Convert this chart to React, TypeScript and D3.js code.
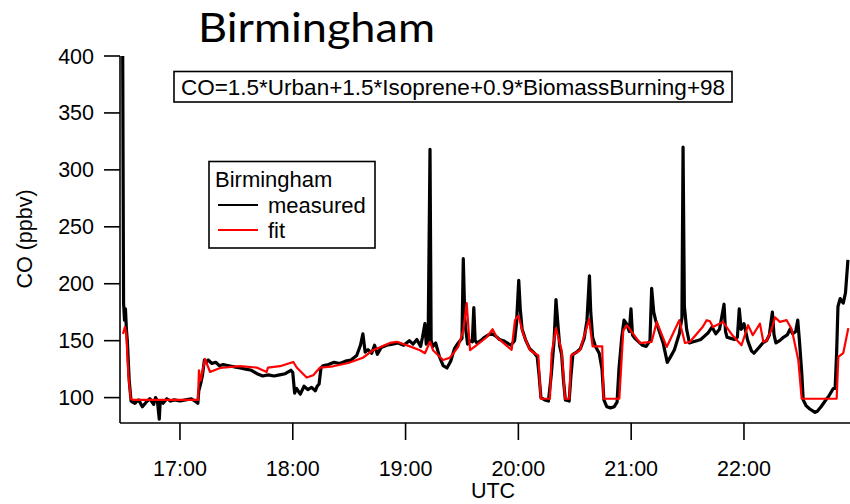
import React from "react";
import * as d3 from "d3";

// Time is stored as minutes after 17:00 UTC
const measuredMinutes = [
  -30.5, -30, -29.5, -29, -28.5, -28, -27, -26, -24, -22, -20, -18, -16, -14, -13, -12, -11, -10.5, -9, -7, -5, -3,
  0, 3, 6, 8, 9.5, 10, 11, 12, 13, 14, 15, 17, 19, 21, 23, 26, 29, 32, 35, 38, 41, 44, 47, 50, 53, 56, 59, 60,
  61, 62, 64, 66, 68, 70, 72, 73, 74, 75, 76, 79, 82, 85, 88, 91, 94, 96, 97.3, 98.5, 100, 102, 103.5, 105, 107,
  110, 113, 116, 119, 122, 124, 126, 128, 129, 130.3, 131, 132, 133, 133.6, 134.5, 136, 138, 140, 142, 144, 146,
  148, 150, 150.7, 151.5, 152, 153, 154, 155.5, 156.3, 157, 158, 160, 162, 164, 166, 168, 170, 172, 174, 176, 178,
  179, 180.2, 181, 182, 184, 186, 188, 190, 191, 192, 194, 196, 197.5, 199, 200, 201, 202, 203, 204, 205, 207, 208,
  209, 211, 213, 215, 216.5, 217.8, 218.5, 219.5, 221, 223, 224.5, 225.5, 227, 229, 231, 232.5, 233.5, 235, 236.2,
  237.5, 239, 239.9, 240.7, 242, 244, 246, 248, 250, 250.9, 252, 253, 255, 257, 259.2, 261, 263, 265.6, 267, 267.6,
  268.3, 269.5, 271, 273, 275, 277, 279, 281, 283, 285, 287, 289.4, 290.2, 291, 293, 295, 296.5, 297.5, 298.5, 300,
  302, 304, 305.3, 308, 310, 312, 313.5, 315.1, 316, 317, 319, 321, 323, 324.5, 326, 327.5, 328.6, 329.5, 330.8,
  331.5, 333, 335, 337.8, 339, 341, 344, 345, 347.5, 348.5, 349.3, 350, 351.2, 352.8, 354, 355.3,
];
const measuredCO = [
  420, 183, 168, 178, 160, 150, 115, 97, 95, 98, 92, 96, 99, 94, 100, 97, 81, 97, 95, 99, 97, 98,
  97, 98, 99, 97, 95, 106, 112, 120, 133, 131, 133, 130, 131, 128, 129, 128, 127, 126, 125, 124, 121, 119, 120, 119, 120, 121, 124, 122,
  104, 108, 103, 110, 107, 109, 106, 110, 112, 126, 128, 129, 131, 130, 132, 133, 137, 146, 156, 140, 142, 139, 146, 138, 144,
  146, 147, 148, 146, 150, 147, 151, 145, 153, 165, 147, 150, 318, 150, 145, 148, 136, 128, 126, 132, 143,
  148, 152, 222, 170, 160, 147, 150, 149, 179, 150, 148, 150, 153, 155, 156, 154, 151, 150, 148, 146, 150,
  165, 203, 178, 160, 150, 143, 140, 136, 120, 100, 98, 97, 120, 150, 186, 165, 145, 138, 115, 98, 97, 120,
  138, 140, 143, 152, 168, 207, 175, 153, 145, 139, 125, 98, 92, 91, 92, 96, 125, 153, 168,
  165, 158, 178, 155, 152, 149, 146, 145, 150, 196, 175, 168, 158, 148, 131, 136, 142, 156, 170, 320,
  180, 160, 148, 149, 150, 151, 154, 157, 162, 156, 160, 182, 158, 153, 152, 151, 153, 178, 160, 165,
  150, 141, 139, 144, 148, 150, 155, 175, 155, 148, 150, 153, 155, 160, 156, 158, 168, 150, 120,
  98, 93, 90, 87, 88, 92, 99, 101, 108, 108, 140, 180, 187, 183, 192, 221,
];

const fitMinutes = [
  -30.3, -29.3, -28.5, -27.5, -26.2, -25, 9.6, 10.1, 11, 13.3, 16, 21.3, 31.9, 40.8, 46.1, 46.8, 53.2, 60.3, 62.1,
  67.4, 70.9, 74.5, 81.5, 89.5, 97.3, 102.7, 111.7, 115.3, 122.3, 127.7, 130.3, 133, 134.6, 139.9, 143.6, 148,
  150.7, 152.5, 154.3, 157.8, 163.1, 166.3, 168.5, 172, 176.4, 178.2, 180, 182.6, 186.2, 190.6, 191.9, 196.8,
  197.7, 200, 203, 204.8, 207.1, 208, 212.8, 217.6, 219.5, 224.6, 225.3, 233.7, 235.8, 237.8, 244.7, 250.9,
  253.6, 258.9, 265.6, 268.6, 271.3, 278, 280.2, 281.9, 283.5, 288.8, 293.4, 298.7, 302.2, 304.7, 308.5, 310.3,
  312.1, 314.7, 316.5, 319.1, 322.7, 325.4, 328.9, 330.7, 349.3, 350.2, 352.8, 355.5,
];
const fitCO = [
  156, 162, 155, 121, 99, 98, 98, 124, 115, 134, 122.5, 126, 127.6, 126.4, 122.5, 126.4, 127.6, 131.3, 126.4,
  117.6, 119.6, 126.4, 127.5, 130.4, 135, 141.6, 148, 149, 145, 141.6, 139, 149, 141.6, 133, 135, 144.5,
  159, 183, 141.6, 146, 153, 160, 153, 148, 142, 168, 172, 156, 141.6, 137, 99, 99,
  139, 161, 141.6, 99, 99, 137, 141.6, 169, 145, 145, 99, 99, 159, 163.5, 147.8, 149,
  166.5, 144.5, 168, 148, 149, 162, 168, 167, 162, 166.5, 155.7, 146, 163.6, 154.8, 165, 149,
  150, 160, 170.6, 166.5, 168, 160, 133, 99, 99, 135.7, 139, 161,
];

const yTicks = [100, 150, 200, 250, 300, 350, 400];
const xTickMinutes = [0, 60, 120, 180, 240, 300];
const xTickLabels = ["17:00", "18:00", "19:00", "20:00", "21:00", "22:00"];

const titleText = "Birmingham";
const equationText = "CO=1.5*Urban+1.5*Isoprene+0.9*BiomassBurning+98";
const legendTitle = "Birmingham";
const seriesNames = ["measured", "fit"];
const seriesColors = ["#000000", "#ff0000"];

const W = 850;
const H = 504;
const plot = { left: 120, right: 850, top: 56, bottom: 423 };
const axisFont = "'Liberation Sans', Arial, sans-serif";

export default function App() {
  const x = d3.scaleLinear().domain([-31.9, 356.4]).range([plot.left, plot.right]);
  const y = d3.scaleLinear().domain([77.7, 400]).range([plot.bottom, plot.top]);

  const line = d3
    .line<[number, number]>()
    .x((d) => x(d[0]))
    .y((d) => y(d[1]));

  const measured = measuredMinutes.map((m, i) => [m, measuredCO[i]] as [number, number]);
  const fit = fitMinutes.map((m, i) => [m, fitCO[i]] as [number, number]);

  return (
    <svg
      width={W}
      height={H}
      style={{ position: "absolute", left: 0, top: 0, background: "#fff" }}
    >
      <defs>
        <clipPath id="plotClip">
          <rect x={plot.left} y={plot.top} width={plot.right - plot.left} height={plot.bottom - plot.top} />
        </clipPath>
      </defs>

      <text
        x={198}
        y={42}
        fontFamily="Lato, 'Open Sans', sans-serif"
        fontSize={41}
        textLength={237}
        lengthAdjust="spacingAndGlyphs"
        fill="#000"
      >
        {titleText}
      </text>

      <g clipPath="url(#plotClip)">
        <path d={line(measured) || ""} fill="none" stroke={seriesColors[0]} strokeWidth={3.2} strokeLinejoin="round" />
        <path d={line(fit) || ""} fill="none" stroke={seriesColors[1]} strokeWidth={2.2} strokeLinejoin="round" />
      </g>

      {/* axes */}
      <line x1={plot.left} x2={plot.left} y1={plot.top} y2={plot.bottom} stroke="#000" strokeWidth={1.6} />
      <line x1={plot.left} x2={plot.right} y1={plot.bottom} y2={plot.bottom} stroke="#000" strokeWidth={1.6} />

      {yTicks.map((t) => (
        <g key={t}>
          <line x1={plot.left - 16} x2={plot.left} y1={y(t)} y2={y(t)} stroke="#000" strokeWidth={1.6} />
          <text x={94} y={y(t) + 7.5} textAnchor="end" fontFamily={axisFont} fontSize={21.5} fill="#000">
            {t}
          </text>
        </g>
      ))}

      {xTickMinutes.map((m, i) => (
        <g key={m}>
          <line x1={x(m)} x2={x(m)} y1={plot.bottom} y2={plot.bottom + 17} stroke="#000" strokeWidth={1.6} />
          <text x={x(m)} y={476} textAnchor="middle" fontFamily={axisFont} fontSize={21.5} fill="#000">
            {xTickLabels[i]}
          </text>
        </g>
      ))}

      <text x={493} y={498} textAnchor="middle" fontFamily={axisFont} fontSize={21.5} fill="#000">
        UTC
      </text>
      <text
        transform={`translate(32,239) rotate(-90)`}
        textAnchor="middle"
        fontFamily={axisFont}
        fontSize={21.5}
        fill="#000"
      >
        CO (ppbv)
      </text>

      {/* equation box */}
      <rect x={174} y={71.5} width={558} height={30.5} fill="#fff" stroke="#000" strokeWidth={1.6} />
      <text x={453} y={94.5} textAnchor="middle" fontFamily={axisFont} fontSize={22.5} fill="#000">
        {equationText}
      </text>

      {/* legend */}
      <rect x={209} y={161.5} width={166} height={86.5} fill="#fff" stroke="#000" strokeWidth={1.6} />
      <text x={215} y={187} fontFamily={axisFont} fontSize={22} fill="#000">
        {legendTitle}
      </text>
      {seriesNames.map((name, i) => (
        <g key={name}>
          <line x1={218} x2={258} y1={205 + i * 25} y2={205 + i * 25} stroke={seriesColors[i]} strokeWidth={2} />
          <text x={268} y={213 + i * 24.5} fontFamily={axisFont} fontSize={22} fill="#000">
            {name}
          </text>
        </g>
      ))}
    </svg>
  );
}
